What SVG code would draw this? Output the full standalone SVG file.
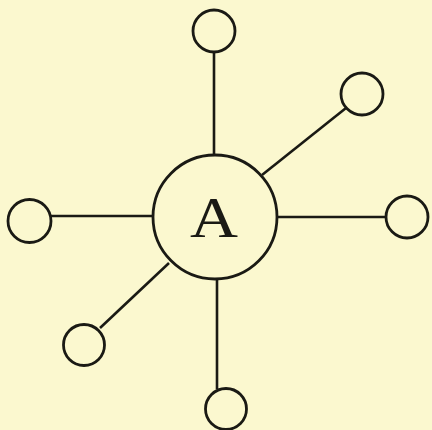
<svg xmlns="http://www.w3.org/2000/svg" width="432" height="430" viewBox="0 0 432 430">
<style>
.n{fill:none;stroke:#1a1a14;stroke-width:2.8}
.c line{stroke:#1a1a14;stroke-width:2.6}
.t{font-family:"Liberation Serif","DejaVu Serif",serif;font-size:56px;fill:#1a1a14;text-anchor:middle}
</style>
<rect width="432" height="430" fill="#fbf8cf"/>
<g class="c" id="connectors">
<line x1="214" y1="52" x2="214" y2="155"/>
<line x1="346" y1="108" x2="262" y2="175"/>
<line x1="386" y1="217" x2="277" y2="217"/>
<line x1="217" y1="279" x2="217" y2="389"/>
<line x1="100" y1="328" x2="169" y2="263"/>
<line x1="51" y1="216" x2="153" y2="216"/>
</g>
<g id="A"><circle class="n" cx="215" cy="217" r="62"/><text class="t" x="214" y="237" textLength="48" lengthAdjust="spacingAndGlyphs">A</text></g>
<g id="n1"><circle class="n" cx="214" cy="31" r="21"/></g>
<g id="n2"><circle class="n" cx="362" cy="94" r="21"/></g>
<g id="n3"><circle class="n" cx="407" cy="217" r="21"/></g>
<g id="n4"><circle class="n" cx="226" cy="409" r="20.5"/></g>
<g id="n5"><circle class="n" cx="84" cy="345" r="20.5"/></g>
<g id="n6"><circle class="n" cx="29.5" cy="221" r="21.5"/></g>
</svg>
